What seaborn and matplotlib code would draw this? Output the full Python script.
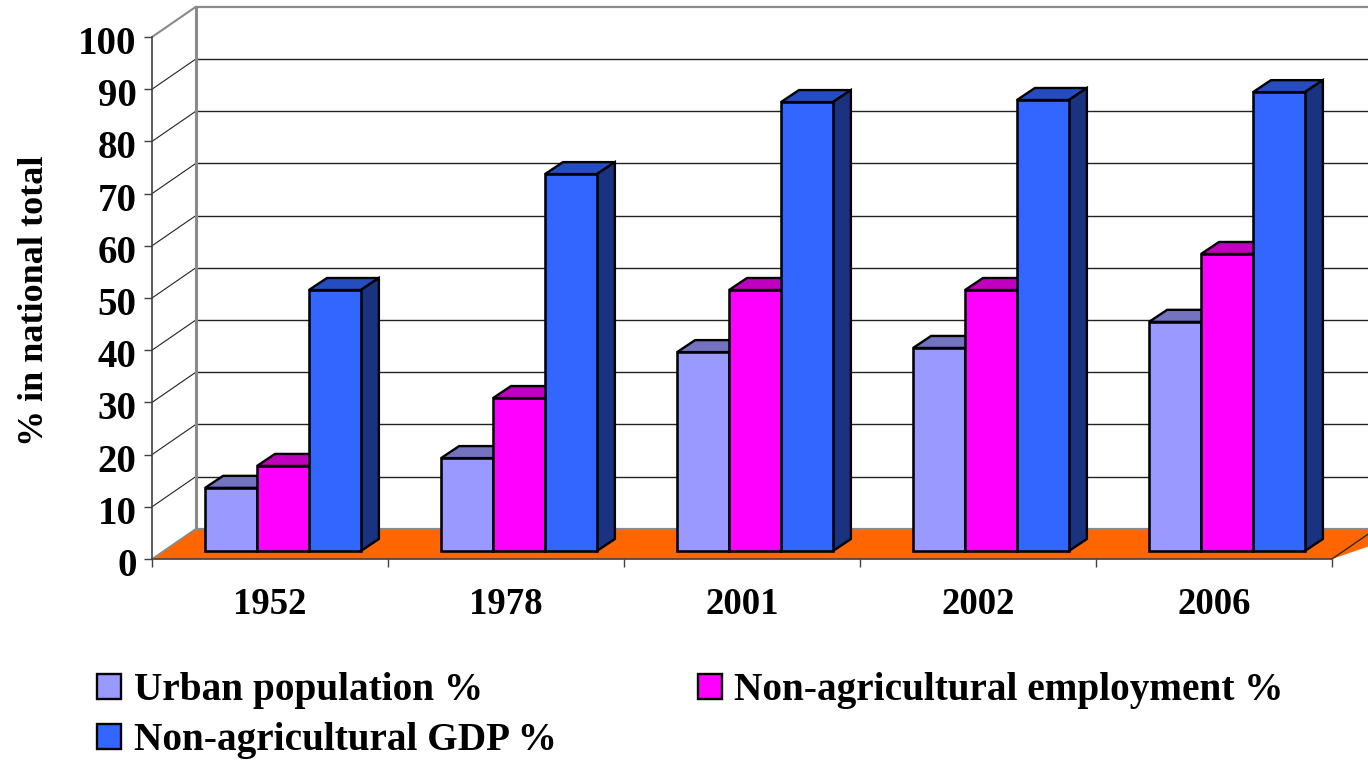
import matplotlib
matplotlib.use('Agg')
import matplotlib.pyplot as plt
import matplotlib.patches as mpatches
from matplotlib.transforms import ScaledTranslation
import pandas as pd
import seaborn as sns

years = ['1952', '1978', '2001', '2002', '2006']
series_names = ['Urban population %', 'Non-agricultural employment %', 'Non-agricultural GDP %']
urban = [12.1, 17.8, 38.1, 38.9, 43.9]
employment = [16.3, 29.3, 50.0, 50.0, 56.9]
gdp = [50.0, 72.2, 86.0, 86.4, 87.9]
colors = ['#9999FF', '#FF00FF', '#3366FF']
floor_color = '#FF6600'
y_ticks = list(range(0, 101, 10))

sns.set_theme(style='white')
plt.rcParams['font.family'] = ['Liberation Serif']
plt.rcParams['font.weight'] = 'bold'


def shade(color, k):
    rgb = matplotlib.colors.to_rgb(color)
    return tuple(c * k for c in rgb)


df = pd.DataFrame({
    'year': years * 3,
    'series': sum([[n] * 5 for n in series_names], []),
    'value': urban + employment + gdp,
})

fig = plt.figure(figsize=(13.68, 7.6), dpi=100)
ax = fig.add_axes([152 / 1368, 1 - 559 / 760, 1180 / 1368, 522 / 760])

sns.barplot(data=df, x='year', y='value', hue='series', hue_order=series_names, order=years,
            palette=colors, saturation=1, width=0.66, gap=0, edgecolor='black', linewidth=1.85,
            legend=False, ax=ax)
ax.set_xlim(-0.5, 4.5)
ax.set_ylim(0, 100)

# pixel helpers, axes is 236 px per category and 5.22 px per percent
px_x = 1 / 236
px_y = 1 / 5.22
wall_dx, wall_dy = 44 * px_x, 30.3 * px_y
depth_dx, depth_dy = 18 * px_x, 12 * px_y
shift_x, shift_y = 13 * px_x, 8 * px_y

# back wall and floor
ax.add_patch(mpatches.Polygon([(-0.5, 0), (-0.5 + wall_dx, wall_dy), (4.5 + 2 * wall_dx, wall_dy), (4.5, 0)],
                              facecolor=floor_color, edgecolor='none', clip_on=False, zorder=1))
for t in y_ticks:
    c, lw = ('#8a8a8a', 1.6) if t in (0, 100) else ('#222222', 1.0)
    ax.plot([-0.5 + wall_dx, 4.5 + 2 * wall_dx], [t + wall_dy, t + wall_dy], color=c, lw=lw, clip_on=False, zorder=1.5)
    if t > 0:
        ax.plot([-0.5, -0.5 + wall_dx], [t, t + wall_dy], color='#8a8a8a' if t == 100 else '#222222',
                lw=1.5 if t == 100 else 0.8, clip_on=False, zorder=1.5)
ax.plot([-0.5 + wall_dx, -0.5 + wall_dx], [wall_dy, 100 + wall_dy], color='#8a8a8a', lw=2.2, clip_on=False, zorder=1.5)
ax.plot([-0.5, -0.5 + wall_dx], [0, wall_dy], color='#8a8a8a', lw=1.2, clip_on=False, zorder=1.6)
ax.plot([4.5, 4.5 + wall_dx], [0, wall_dy], color='#222222', lw=0.9, clip_on=False, zorder=1.6)

# fake 3d faces on the bars
for j, container in enumerate(ax.containers):
    for bar in container:
        bar.set_x(bar.get_x() + shift_x)
        bar.set_y(shift_y)
        bar.set_clip_on(False)
        bar.set_zorder(3 + j)
        x0, x1 = bar.get_x(), bar.get_x() + bar.get_width()
        y0, y1 = shift_y, shift_y + bar.get_height()
        top = [(x0, y1), (x0 + depth_dx, y1 + depth_dy), (x1 + depth_dx, y1 + depth_dy), (x1, y1)]
        side = [(x1, y0), (x1 + depth_dx, y0 + depth_dy), (x1 + depth_dx, y1 + depth_dy), (x1, y1)]
        ax.add_patch(mpatches.Polygon(top, facecolor=shade(colors[j], 0.75), edgecolor='black', lw=1.7,
                                      clip_on=False, zorder=2.9 + j, joinstyle='miter'))
        ax.add_patch(mpatches.Polygon(side, facecolor=shade(colors[j], 0.5), edgecolor='black', lw=1.7,
                                      clip_on=False, zorder=2.9 + j, joinstyle='miter'))

# axes
sns.despine(ax=ax, top=True, right=True)
for s in ['left', 'bottom']:
    ax.spines[s].set_color('#404040')
    ax.spines[s].set_linewidth(1.2)
    ax.spines[s].set_zorder(2)
ax.set_yticks(y_ticks)
ax.tick_params(axis='y', which='major', left=True, length=6, width=1.0, color='#404040', pad=5, labelsize=28, labelcolor='black')
for lab in ax.get_yticklabels():
    lab.set_transform(lab.get_transform() + ScaledTranslation(0, -3 / 100, fig.dpi_scale_trans))
ax.set_xticks(range(len(years)))
ax.set_xticks([i - 0.5 for i in range(len(years) + 1)], minor=True)
ax.tick_params(axis='x', which='major', bottom=False, length=0, pad=20, labelsize=26.5, labelcolor='black')
ax.tick_params(axis='x', which='minor', bottom=True, length=6, width=1.0, color='#404040')
ax.set_xlabel('')
ax.set_ylabel('')
fig.text(35 / 1368, 1 - 301 / 760, '% in national total', rotation=90, ha='center', va='center',
         fontsize=26, fontweight='bold', color='black')

# legend fills column by column so GDP goes under urban
handles = [mpatches.Patch(facecolor=colors[i], edgecolor='black', lw=1.7, label=series_names[i]) for i in (0, 2, 1)]
fig.legend(handles=handles, loc='upper left', bbox_to_anchor=(97 / 1368, 1 - 672 / 760), ncol=2, frameon=False,
           prop={'family': 'Liberation Serif', 'weight': 'bold', 'size': 28.3}, labelcolor='black',
           handlelength=0.6, handleheight=0.6, handletextpad=0.33, columnspacing=3.6, labelspacing=0.33,
           borderpad=0, borderaxespad=0)

fig.savefig('out.png', dpi=100)
